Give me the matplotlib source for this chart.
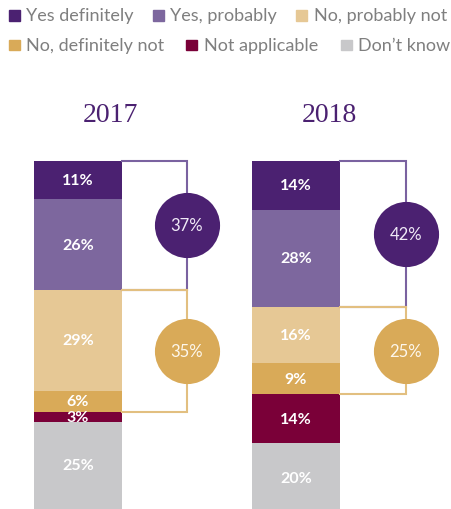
import numpy as np
import matplotlib as mpl
import matplotlib.pyplot as plt
from matplotlib.patches import Rectangle

mpl.use("agg")

# survey answers per year, top to bottom of the stack
categories = ["Yes definitely", "Yes, probably", "No, probably not",
              "No, definitely not", "Not applicable", "Don\u2019t know"]
years = ["2017", "2018"]
share_2017 = [11, 26, 29, 6, 3, 25]
share_2018 = [14, 28, 16, 9, 14, 20]

colors = ["#4B2171", "#7D679E", "#E6C895", "#D9AA58", "#7A0038", "#C8C8CA"]
purple_line = "#7A62A0"
gold_line = "#E2BF80"
legend_grey = "#7F7F7F"

W, H = 451, 510
fig = plt.figure(figsize=(W / 100, H / 100), dpi=100)
ax = fig.add_axes([0, 0, 1, 1])
ax.set_xlim(0, W)
px_per_pct = 3.48
top_px = 162
ax.set_ylim(100, -top_px / px_per_pct)
ax.axis("off")

bar_w = 88
bar_left = [34, 252]
bracket_x = [187, 406]

label_font = dict(family=["Lato", "DejaVu Sans"], fontweight="bold", fontsize=11.5, color="white")
circle_font = dict(family=["Lato", "DejaVu Sans"], fontweight="normal", fontsize=12)

for i, vals in enumerate([share_2017, share_2018]):
    vals = np.array(vals)
    bottoms = np.concatenate([[0], np.cumsum(vals)[:-1]])
    xc = bar_left[i] + bar_w / 2
    xr = bar_left[i] + bar_w
    ax.bar(np.full(len(vals), xc), vals, bottom=bottoms, width=bar_w, color=colors, zorder=2)
    for v, b in zip(vals, bottoms):
        ax.text(xc, b + v / 2, f"{v}%", ha="center", va="center", zorder=5, **label_font)

    # brackets grouping the "yes" and "no" answers
    groups = [(0, 2, purple_line, colors[0], "#F0EAF7"), (2, 4, gold_line, colors[3], "#FDF7EC")]
    for k0, k1, lc, cc, tc in groups:
        y0 = bottoms[k0]
        y1 = bottoms[k1 - 1] + vals[k1 - 1]
        ax.plot([xr, bracket_x[i], bracket_x[i], xr], [y0, y0, y1, y1],
                color=lc, lw=1.5, zorder=3, solid_joinstyle="miter")
        ym = (y0 + y1) / 2
        ax.scatter([bracket_x[i]], [ym], s=2200, color=cc, zorder=4, linewidths=0)
        ax.text(bracket_x[i], ym, f"{vals[k0:k1].sum()}%", ha="center", va="center",
                color=tc, zorder=5, **circle_font)

    ax.text((bar_left[i] + bracket_x[i]) / 2, -13.5, years[i], ha="center", va="center",
            family=["Liberation Serif", "DejaVu Serif"], fontsize=20, color="#4B2171")

# legend, two rows of three
leg_rows = [(16.5, [9, 153, 296]), (46, [9, 186, 341])]
sq = 10.5
k = 0
for y, xs in leg_rows:
    for x in xs:
        fig.patches.append(Rectangle((x / W, 1 - (y + sq / 2) / H), sq / W, sq / H,
                                     transform=fig.transFigure, color=colors[k]))
        fig.text((x + 17.5) / W, 1 - y / H, categories[k], ha="left", va="center",
                 family=["Lato", "DejaVu Sans"], fontsize=13, color=legend_grey)
        k += 1

fig.savefig("out.png", dpi=100)
